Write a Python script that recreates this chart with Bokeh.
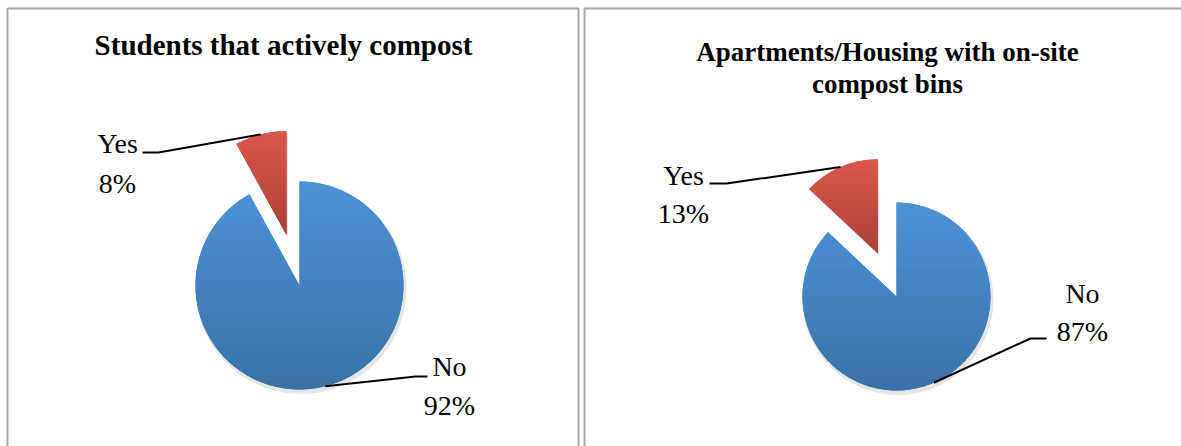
import numpy as np
from bokeh.plotting import figure
from bokeh.models import Range1d, Label, ColumnDataSource
from bokeh.core.properties import value
from bokeh.embed import file_html
from bokeh.resources import INLINE

# ---------------- data ----------------
categories = ["No", "Yes"]
students_pct = [92, 8]
housing_pct = [87, 13]
title_students = ["Students that actively compost"]
title_housing = ["Apartments/Housing with on-site", "compost bins"]

# ---------------- style ----------------
slice_colors = ["#4382C2", "#C84C41"]
slice_top = [(75, 147, 215), (218, 88, 76)]
slice_bottom = [(59, 113, 168), (172, 64, 54)]

W, H = 1181, 446
FONT = "Liberation Serif"


def py(v):
    """pixel-from-top -> data y"""
    return H - v


def clip_half(poly, inside, inter):
    out = []
    n = len(poly)
    for i in range(n):
        cur, prev = poly[i], poly[i - 1]
        if inside(cur):
            if not inside(prev):
                out.append(inter(prev, cur))
            out.append(cur)
        elif inside(prev):
            out.append(inter(prev, cur))
    return out


def y_inter(yc):
    def f(a, b):
        t = (yc - a[1]) / (b[1] - a[1])
        return (a[0] + t * (b[0] - a[0]), yc)
    return f


def clip_band(poly, y0, y1):
    q = clip_half(poly, lambda pt: pt[1] >= y0, y_inter(y0))
    if not q:
        return q
    return clip_half(q, lambda pt: pt[1] <= y1, y_inter(y1))


p = figure(width=W, height=H, x_range=Range1d(0, W), y_range=Range1d(0, H),
           x_axis_type=None, y_axis_type=None, output_backend="svg",
           toolbar_location=None, min_border=0)
p.grid.visible = False
p.outline_line_color = None
p.background_fill_color = "white"
p.border_fill_color = "white"

# panel frames
p.quad(left=[7, 584], right=[578, 1200], bottom=[-20, -20], top=[py(8), py(8)],
       fill_color=None, line_color="#A8A8A8", line_width=2)

panels = [
    dict(values=students_pct, titles=title_students, cx=299, cy=285, r=104,
         title_x=283, title_mid=[44], title_size="29px",
         label_pos={"Yes": (117, 143, 183), "No": (449, 366, 405)},
         leaders={"Yes": [(142, 152), (158, 152)], "No": [(427, 376), (415, 376)]}),
    dict(values=housing_pct, titles=title_housing, cx=896, cy=296, r=94,
         title_x=887, title_mid=[51, 83], title_size="27px",
         label_pos={"Yes": (683, 175, 213), "No": (1082, 293, 331)},
         leaders={"Yes": [(709, 183), (726, 183)], "No": [(1046, 338), (1030, 338)]}),
]

explode_cat = "Yes"
explode_frac = 0.5
NBANDS = 44

for pan in panels:
    vals = np.array(pan["values"], dtype=float)
    frac = vals / vals.sum()
    cw_end = np.cumsum(frac) * 360.0
    cw_start = cw_end - frac * 360.0
    start = 90.0 - cw_end
    end = 90.0 - cw_start
    mid = np.radians(90.0 - (cw_start + cw_end) / 2.0)
    cx, cy, r = pan["cx"], py(pan["cy"]), pan["r"]
    off = np.array([explode_frac * r if c == explode_cat else 0.0 for c in categories])
    xs = cx + off * np.cos(mid)
    ys = cy + off * np.sin(mid)
    src = ColumnDataSource(dict(x=xs, y=ys, start=start, end=end, color=slice_colors,
                                sx=xs + 1.5, sy=ys - 3))
    # soft shadow
    p.wedge(x="sx", y="sy", radius=r + 1.5, start_angle="start", end_angle="end",
            start_angle_units="deg", end_angle_units="deg",
            fill_color="#000000", fill_alpha=0.10, line_color=None, source=src)
    p.wedge(x="x", y="y", radius=r, start_angle="start", end_angle="end",
            start_angle_units="deg", end_angle_units="deg",
            fill_color="color", line_color=None, source=src)

    # vertical gradient shading of each slice, clipped to the slice outline
    bxs, bys, bcols = [], [], []
    for i in range(len(categories)):
        a = np.radians(np.linspace(start[i], end[i], 360))
        poly = [(xs[i], ys[i])] + list(zip(xs[i] + r * np.cos(a), ys[i] + r * np.sin(a)))
        ytop = max(pt[1] for pt in poly)
        ybot = min(pt[1] for pt in poly)
        edges = np.linspace(ybot, ytop, NBANDS + 1)
        for k in range(NBANDS):
            band = clip_band(poly, edges[k] - 0.6, edges[k + 1] + 0.6)
            if len(band) < 3:
                continue
            t = (0.5 * (edges[k] + edges[k + 1]) - ybot) / (ytop - ybot)
            c = [int(round(slice_bottom[i][j] + t * (slice_top[i][j] - slice_bottom[i][j])))
                 for j in range(3)]
            bxs.append([pt[0] for pt in band])
            bys.append([pt[1] for pt in band])
            bcols.append("#%02x%02x%02x" % tuple(c))
    p.patches(xs=bxs, ys=bys, fill_color=bcols, line_color=None)

    # labels + leaders
    for i, cat in enumerate(categories):
        lx, m1, m2 = pan["label_pos"][cat]
        p.text(x=[lx], y=[py(m1)], text=[cat], text_font=value(FONT),
               text_font_size="28px", text_align="center", text_baseline="middle",
               text_color="black")
        p.text(x=[lx], y=[py(m2)], text=[f"{int(vals[i])}%"], text_font=value(FONT),
               text_font_size="28px", text_align="center", text_baseline="middle",
               text_color="black")
        ax = xs[i] + r * np.cos(mid[i])
        ay = ys[i] + r * np.sin(mid[i])
        pts = pan["leaders"][cat]
        lxs = [pts[0][0], pts[1][0], ax]
        lys = [py(pts[0][1]), py(pts[1][1]), ay]
        p.line(lxs, lys, line_color="black", line_width=2)

    # titles
    for t, m in zip(pan["titles"], pan["title_mid"]):
        p.add_layout(Label(x=pan["title_x"], y=py(m), text=t, text_font=FONT,
                           text_font_style="bold", text_font_size=pan["title_size"],
                           text_align="center", text_baseline="middle",
                           text_color="black"))

open("out.html", "w").write(file_html(p, INLINE))
